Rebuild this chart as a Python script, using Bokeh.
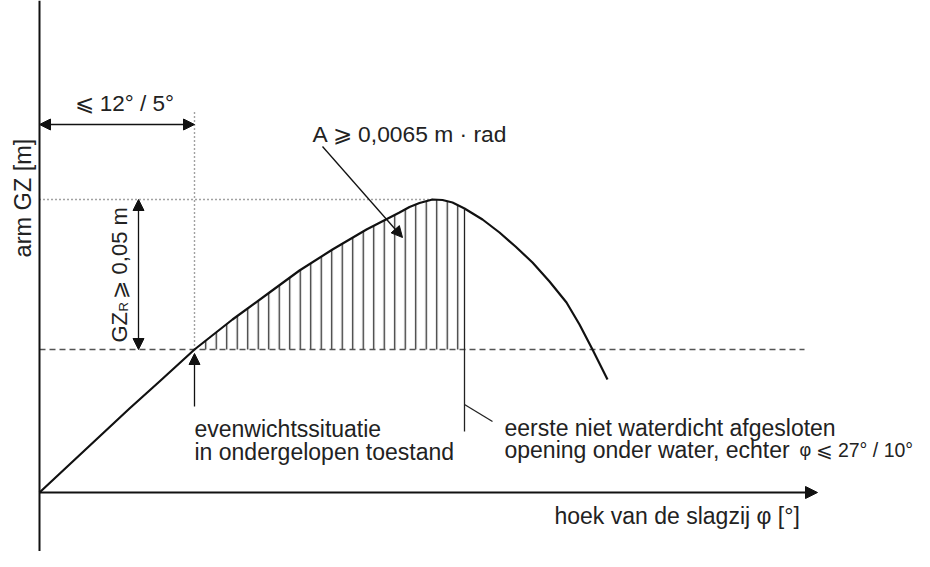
import numpy as np
from bokeh.plotting import figure
from bokeh.models import Range1d, Arrow, NormalHead
from bokeh.core.properties import value
from bokeh.embed import file_html
from bokeh.resources import INLINE

# ---- schematic data (heel angle in schematic degrees, GZ arm in schematic units) ----
heel_angle = [0, 3, 6, 9, 12, 15.5, 19.3, 23, 26, 29.3, 32.7, 36, 37, 38, 39.3, 40.3, 41.3, 42.5,
              44.3, 46, 47.6, 49.3, 51, 52.7, 54, 55.3, 56.8]
gz_arm = [0, 2.8, 5.6, 8.4, 11.1, 14.3, 17.3, 20.0, 22.2, 24.3, 26.3, 28.0, 28.55, 28.95, 29.3, 29.25,
          29.0, 28.4, 27.3, 26.0, 24.6, 23.0, 21.1, 19.0, 16.8, 14.3, 11.3]

equilibrium_angle = 15.5   # evenwichtssituatie
opening_angle = 42.5       # eerste niet waterdicht afgesloten opening
gz_level = 14.3            # GZ level at equilibrium (dashed line)
gz_max = 29.3              # maximum GZ

FONT = value("Liberation Sans")
TXT = "#222222"

p = figure(width=914, height=551, output_backend="svg", toolbar_location=None,
           x_range=Range1d(-3.9, 87.5), y_range=Range1d(-5.9, 49.2),
           min_border=0, x_axis_location=None, y_axis_location=None)
p.grid.visible = False
p.outline_line_color = None
p.background_fill_color = "white"

# hatched area between equilibrium level and curve
i0 = heel_angle.index(equilibrium_angle)
i1 = heel_angle.index(opening_angle)
hx = heel_angle[i0:i1 + 1] + [opening_angle]
hy = gz_arm[i0:i1 + 1] + [gz_level]
p.patch(hx, hy, fill_color=None, line_color=None, hatch_pattern="|",
        hatch_color="#2a2a2a", hatch_weight=1.3, hatch_scale=10.5)

# dashed GZ_R level line
p.line([0, 76.5], [gz_level, gz_level], line_color="#555555", line_width=1.4, line_dash="6 4")
# dotted helper lines
p.line([equilibrium_angle, equilibrium_angle], [gz_level, 38.3], line_color="#444444",
       line_width=1.4, line_dash="1 3")
p.line([0, heel_angle[gz_arm.index(gz_max)]], [gz_max, gz_max], line_color="#444444",
       line_width=1.4, line_dash="1 3")

# GZ curve
p.line(heel_angle, gz_arm, line_color="#111111", line_width=2.2, line_join="round")

# opening line + leader
p.line([opening_angle, opening_angle], [gz_arm[i1], 6.1], line_color="#222222", line_width=1.3)
p.line([opening_angle, 45.3], [8.8, 7.1], line_color="#222222", line_width=1.3)

# axes
p.line([0, 0], [-6.6, 49.2], line_color="#111111", line_width=2)
p.add_layout(Arrow(x_start=0, y_start=0, x_end=77.8, y_end=0, line_color="#111111", line_width=1.8,
                   end=NormalHead(size=12, fill_color="#111111", line_color="#111111")))

def head():
    return NormalHead(size=11, fill_color="#111111", line_color="#111111", line_width=1)

# horizontal double arrow  (<= 12 / 5 deg)
p.add_layout(Arrow(x_start=0, y_start=36.8, x_end=equilibrium_angle, y_end=36.8,
                   line_color="#111111", line_width=1.5, start=head(), end=head()))
# vertical double arrow (GZ_R)
p.add_layout(Arrow(x_start=9.9, y_start=gz_level, x_end=9.9, y_end=gz_max,
                   line_color="#111111", line_width=1.3, start=head(), end=head()))
# equilibrium arrow
p.add_layout(Arrow(x_start=equilibrium_angle, y_start=8.6, x_end=equilibrium_angle, y_end=13.9,
                   line_color="#111111", line_width=1.3, end=head()))
# area annotation arrow
p.add_layout(Arrow(x_start=28.3, y_start=34.6, x_end=36.3, y_end=25.5,
                   line_color="#111111", line_width=1.3, end=head()))

def txt(x, y, s, size=23, angle=0.0, align="left"):
    p.text(x=[x], y=[y], text=[s], angle=angle, text_font=FONT, text_font_size=f"{size}px",
           text_color=TXT, text_align=align, text_baseline="alphabetic")

DY = 0.7  # baseline correction for horizontal labels
txt(3.5, 38.2 + DY, "⩽ 12° / 5°", size=22.5)
txt(-1.7, 29.45, "arm GZ [m]", size=23.5, angle=np.pi / 2, align="center")
txt(8.0, 15.0, "GZ", size=22, angle=np.pi / 2)
txt(8.4, 18.1, "R", size=13, angle=np.pi / 2)
txt(8.0, 19.4, "⩾ 0,05 m", size=22, angle=np.pi / 2)
txt(27.3, 35.2 + DY, "A ⩾ 0,0065 m · rad", size=22.8)
txt(15.5, 5.7 + DY, "evenwichtssituatie")
txt(15.5, 3.4 + DY, "in ondergelopen toestand")
txt(46.5, 5.8 + DY, "eerste niet waterdicht afgesloten")
txt(46.5, 3.6 + DY, "opening onder water, echter")
txt(76.0, 3.6 + DY, "φ", size=18)
txt(77.6, 3.6 + DY, "⩽ 27° / 10°", size=19.5)
txt(51.5, -3.0 + DY, "hoek van de slagzij φ [°]")

open("out.html", "w").write(file_html(p, INLINE))
